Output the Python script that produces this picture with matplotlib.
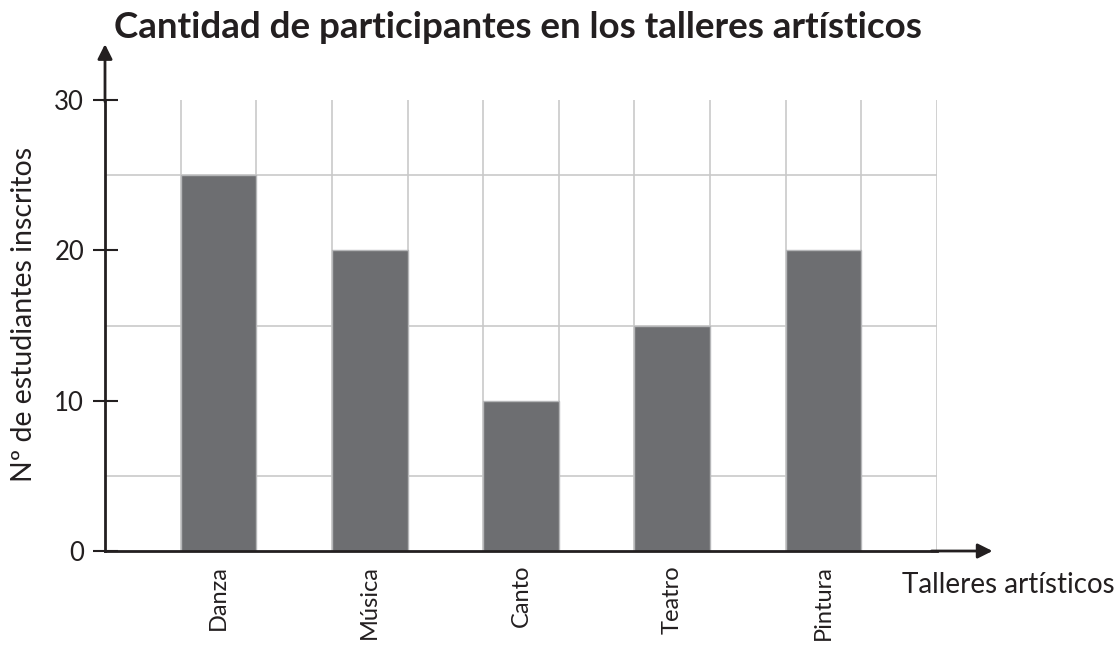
import matplotlib
matplotlib.use("Agg")
import matplotlib.pyplot as plt

talleres = ["Danza", "Música", "Canto", "Teatro", "Pintura"]
inscritos = [25, 20, 10, 15, 20]
posiciones = [1.5, 3.5, 5.5, 7.5, 9.5]
y_ticks = [0, 10, 20, 30]

plt.rcParams['font.family'] = ['Lato', 'DejaVu Sans']

fig = plt.figure(figsize=(11.2, 6.52), dpi=100)
ax = fig.add_axes([0.09375, 0.1549, 0.7429, 0.6917])

ax.bar(posiciones, inscritos, width=1.0, color="#6d6e71",
       edgecolor="#b5b6b8", linewidth=1.0, zorder=3)

ax.set_xlim(0, 11)
ax.set_ylim(0, 30)

# grid
ax.set_xticks(range(12), minor=True)
ax.set_yticks(range(0, 31, 5), minor=True)
ax.grid(which="minor", color="#c9c9c9", linewidth=1.2, zorder=0)
ax.tick_params(which="minor", length=0)

ax.set_xticks(posiciones)
ax.set_xticklabels(talleres, rotation=90, fontsize=17, color="#231f20")
ax.tick_params(axis="x", length=0, pad=10)
ax.set_yticks(y_ticks)
ax.set_yticklabels([str(v) for v in y_ticks], fontsize=18.5, color="#231f20")
ax.tick_params(axis="y", direction="inout", length=18, width=1.5,
               color="#231f20", pad=6)

for s in ["top", "right"]:
    ax.spines[s].set_visible(False)
for s in ["left", "bottom"]:
    ax.spines[s].set_linewidth(2)
    ax.spines[s].set_color("#231f20")
    ax.spines[s].set_zorder(4)

# arrows
ax.annotate("", xy=(0, 1.13), xytext=(0, 0.99), xycoords="axes fraction",
            arrowprops=dict(arrowstyle="-|>", color="#231f20", lw=2,
                            mutation_scale=22), annotation_clip=False)
ax.annotate("", xy=(1.07, 0), xytext=(0.99, 0), xycoords="axes fraction",
            arrowprops=dict(arrowstyle="-|>", color="#231f20", lw=2,
                            mutation_scale=22), annotation_clip=False)

fig.text(0.4625, 0.958, "Cantidad de participantes en los talleres artísticos",
         ha="center", va="center", fontsize=26.5, fontweight="bold", color="#231f20")
fig.text(0.9, 0.102, "Talleres artísticos", ha="center", va="center",
         fontsize=20, color="#231f20")
fig.text(0.021, 0.517, "Nº de estudiantes inscritos", rotation=90,
         ha="center", va="center", fontsize=20.5, color="#231f20")

fig.savefig("out.png", dpi=100)
